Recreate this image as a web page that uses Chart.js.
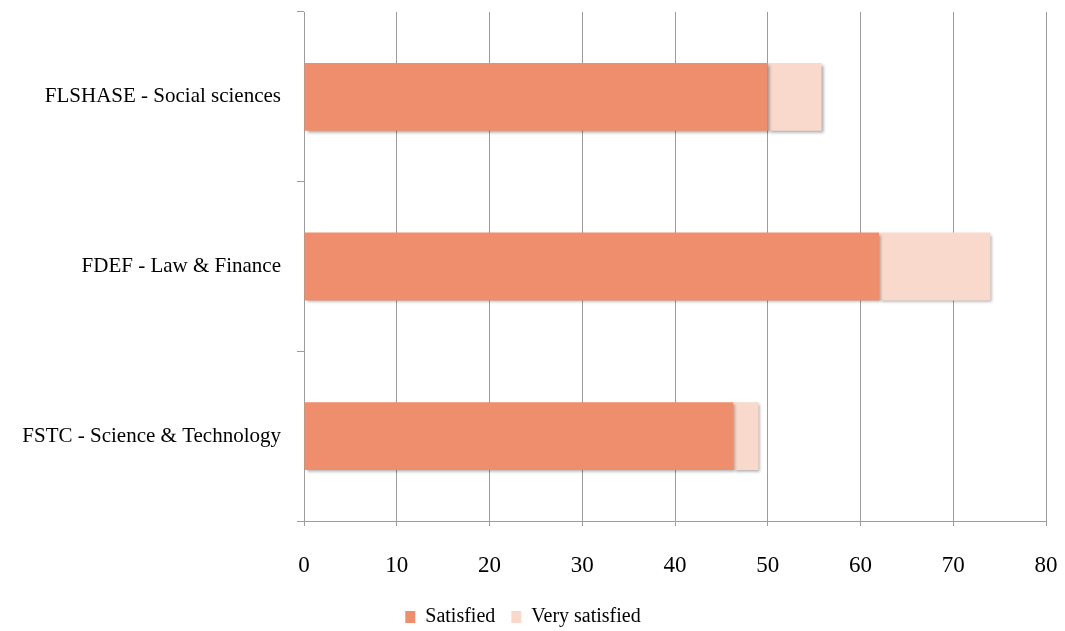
<!DOCTYPE html>
<html>
<head>
<meta charset="utf-8">
<script src="https://cdn.jsdelivr.net/npm/chart.js@4/dist/chart.umd.min.js"></script>
<style>
    html, body { margin: 0; padding: 0; background: #fff; }
    #wrap { width: 1065px; height: 631px; }
</style>
</head>
<body>
<div id="wrap"><canvas id="result-chart" width="1065" height="631"></canvas></div>
<script>
// Data
const faculties = ['FLSHASE - Social sciences', 'FDEF - Law & Finance', 'FSTC - Science & Technology'];
const satisfied = [50.0, 62.0, 46.3];
const verySatisfied = [5.8, 12.0, 2.7];
const xTicks = [0, 10, 20, 30, 40, 50, 60, 70, 80];

const FONT = "'Liberation Serif', 'DejaVu Serif', serif";
const GRID = '#9c9c9c';

// Soft drop shadow under the bars
const barShadow = {
    id: 'barShadow',
    beforeDatasetsDraw(chart) {
        const ctx = chart.ctx;
        ctx.save();
        ctx.shadowColor = 'rgba(0, 0, 0, 0.35)';
        ctx.shadowBlur = 3;
        ctx.shadowOffsetX = 2;
        ctx.shadowOffsetY = 2;
    },
    afterDatasetsDraw(chart) {
        chart.ctx.restore();
    }
};

new Chart(document.getElementById('result-chart'), {
    type: 'bar',
    data: {
        labels: faculties,
        datasets: [
            {
                label: 'Satisfied',
                data: satisfied,
                backgroundColor: '#ee8e6c',
                borderWidth: 0,
                barPercentage: 0.4,
                categoryPercentage: 1.0
            },
            {
                label: 'Very satisfied',
                data: verySatisfied,
                backgroundColor: '#f8d9cc',
                borderWidth: 0,
                barPercentage: 0.4,
                categoryPercentage: 1.0
            }
        ]
    },
    plugins: [barShadow],
    options: {
        responsive: false,
        animation: false,
        indexAxis: 'y',
        layout: {
            padding: { left: 0, right: 19, top: 12, bottom: -6 }
        },
        plugins: {
            legend: {
                position: 'bottom',
                labels: {
                    color: '#000',
                    boxWidth: 10,
                    boxHeight: 12,
                    padding: 16,
                    font: { family: FONT, size: 20 }
                }
            },
            tooltip: { enabled: false },
            title: { display: false }
        },
        scales: {
            x: {
                type: 'linear',
                stacked: true,
                min: 0,
                max: 80,
                afterBuildTicks: function(scale) {
                    scale.ticks = xTicks.map(v => ({ value: v }));
                },
                afterFit: function(scale) {
                    scale.height = 70;
                    scale.paddingLeft = 0;
                    scale.paddingRight = 0;
                },
                grid: {
                    color: GRID,
                    lineWidth: 1,
                    tickLength: 5,
                    drawTicks: true
                },
                border: { display: true, color: GRID },
                ticks: {
                    color: '#000',
                    padding: 26,
                    font: { family: FONT, size: 23 }
                }
            },
            y: {
                stacked: true,
                afterFit: function(scale) {
                    scale.width = 304;
                    scale.paddingTop = 0;
                    scale.paddingBottom = 0;
                },
                grid: {
                    drawOnChartArea: false,
                    color: GRID,
                    tickLength: 7
                },
                border: { display: true, color: GRID },
                ticks: {
                    color: '#000',
                    padding: 16,
                    font: { family: FONT, size: 21 }
                }
            }
        }
    }
});
</script>
</body>
</html>
